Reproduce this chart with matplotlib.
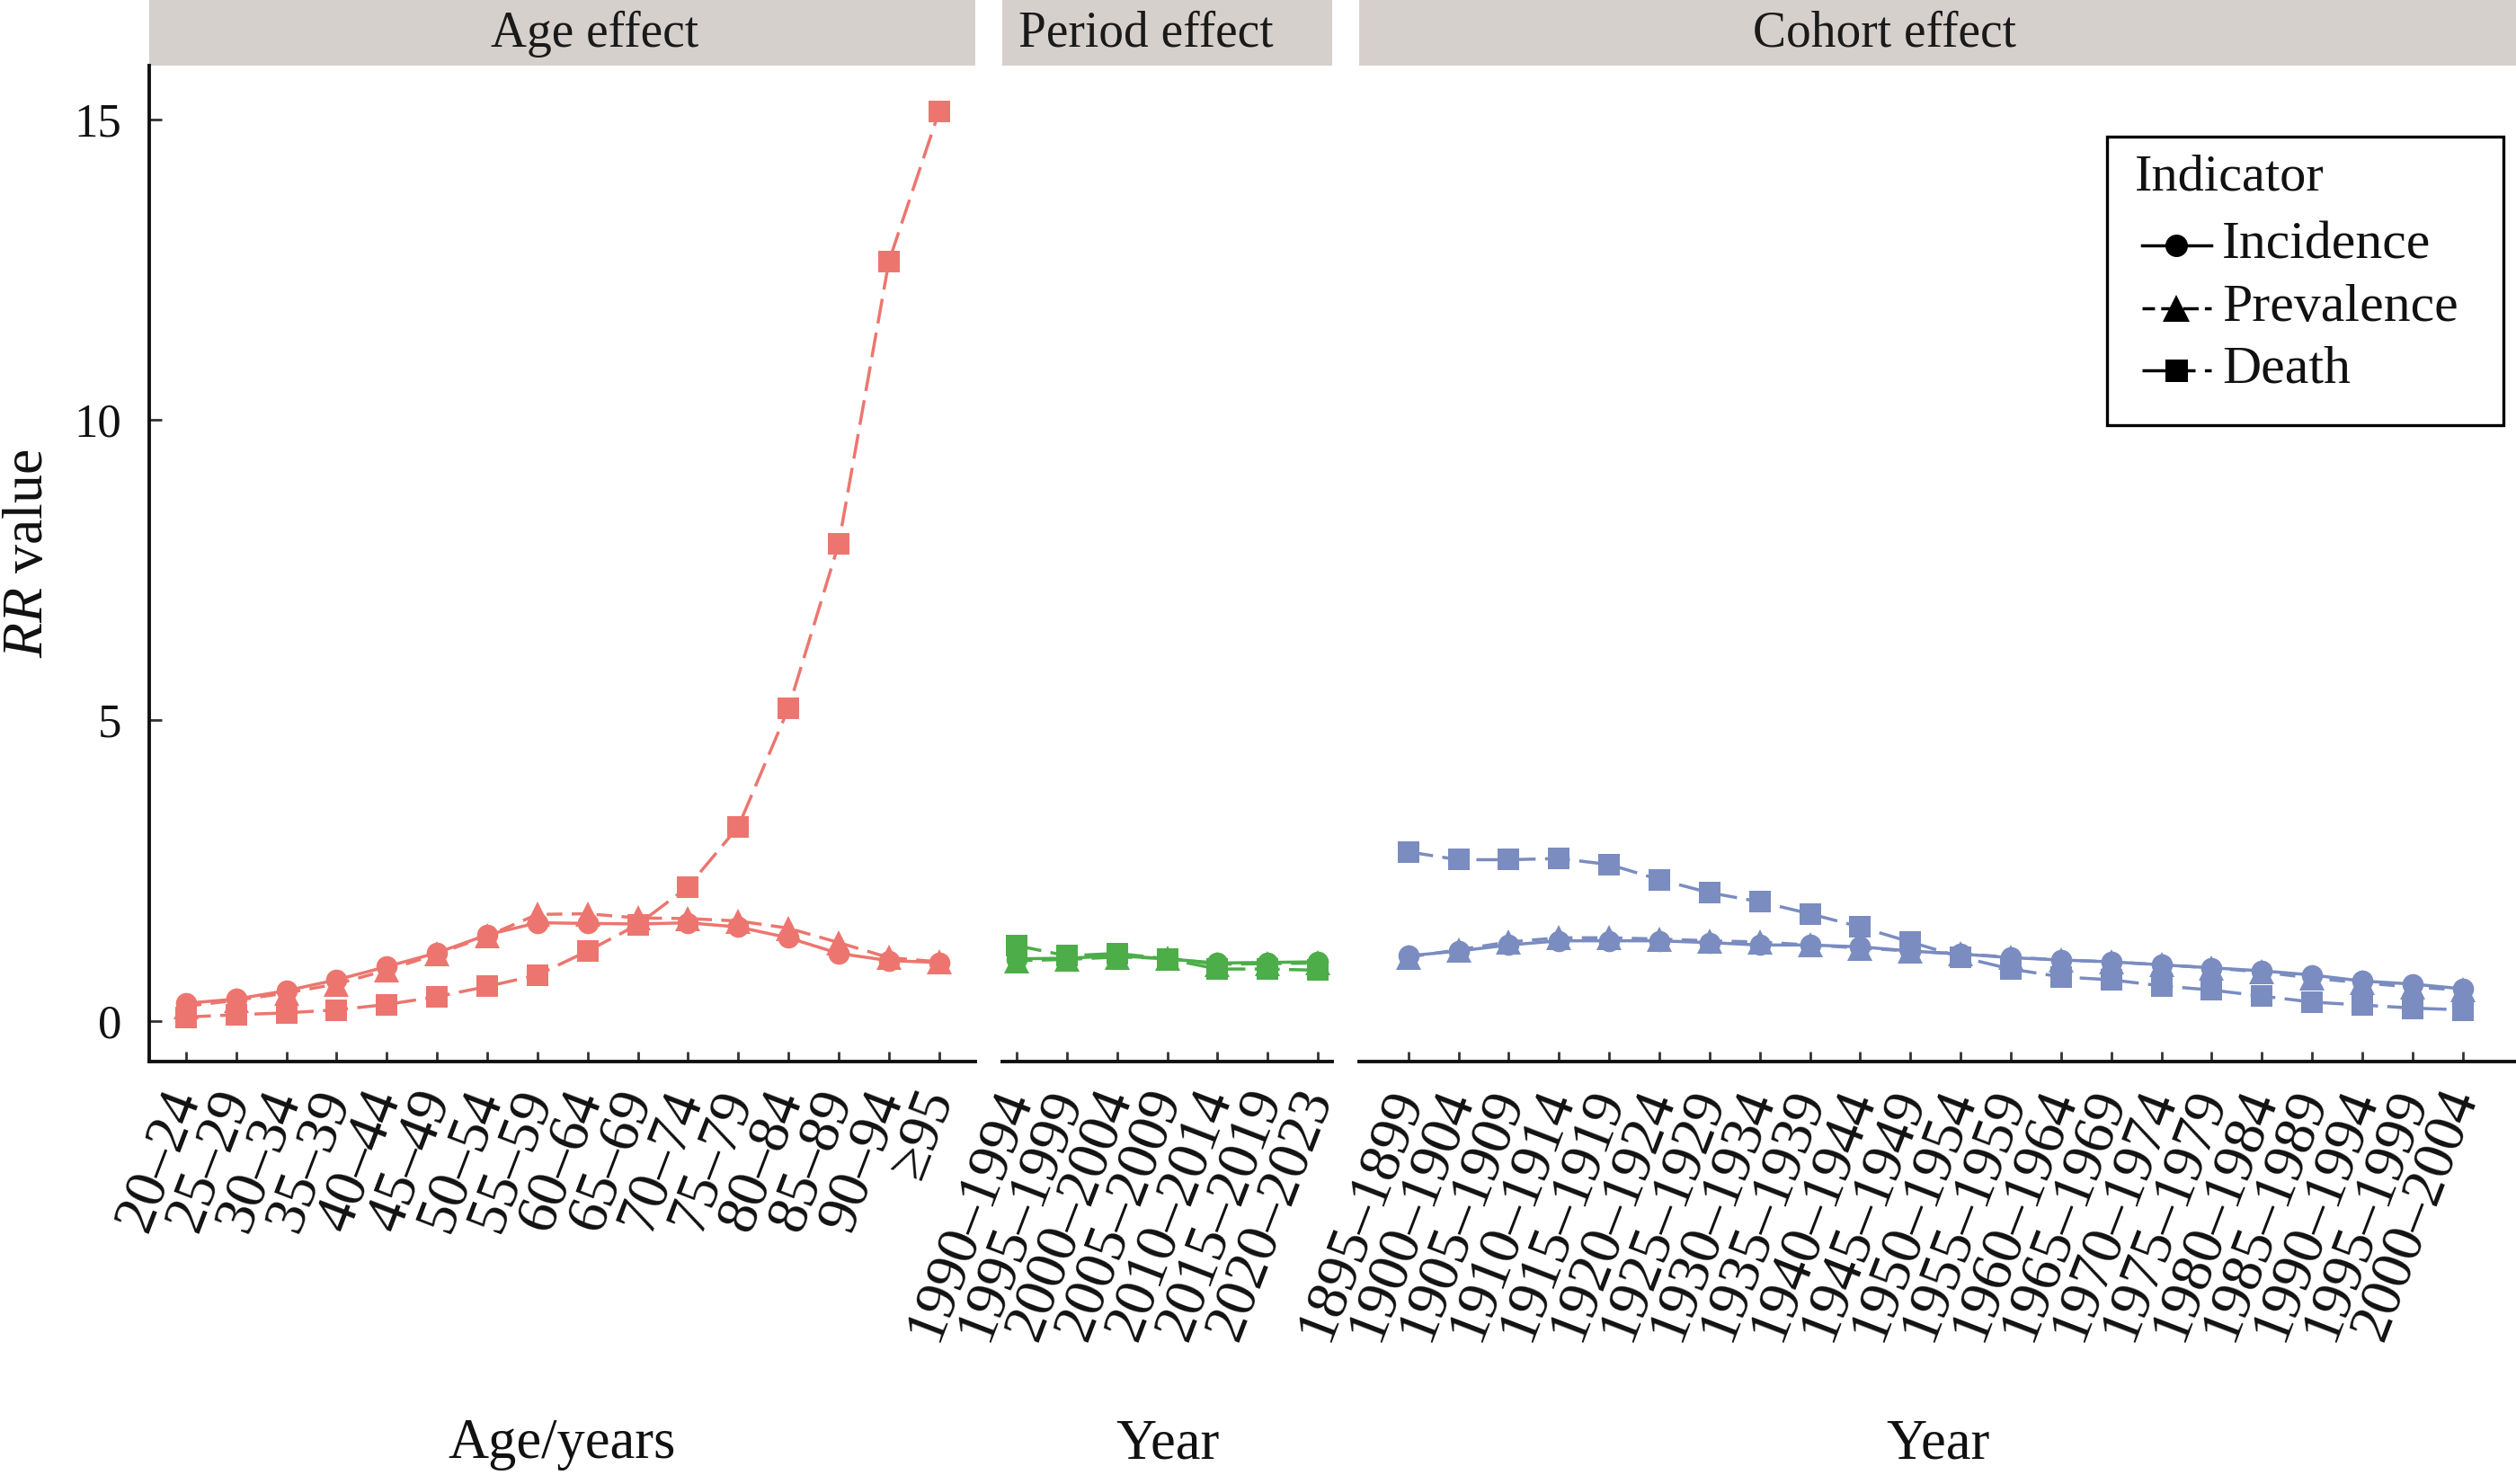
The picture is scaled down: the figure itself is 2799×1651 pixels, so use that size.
import matplotlib
matplotlib.use("Agg")
import matplotlib.pyplot as plt
from matplotlib.patches import Rectangle
from matplotlib.lines import Line2D

plt.rcParams['font.family'] = ['Liberation Serif', 'DejaVu Serif']
plt.rcParams['mathtext.fontset'] = 'custom'
plt.rcParams['mathtext.rm'] = 'Liberation Serif'
plt.rcParams['mathtext.it'] = 'Liberation Serif:italic'

# ---------------- data ----------------
age_labels = ['20–24', '25–29', '30–34', '35–39', '40–44', '45–49', '50–54', '55–59',
              '60–64', '65–69', '70–74', '75–79', '80–84', '85–89', '90–94', '≥95']
age_incidence = [0.29, 0.36, 0.50, 0.68, 0.90, 1.13, 1.43, 1.63, 1.62, 1.61, 1.63, 1.56, 1.38, 1.12, 1.00, 0.97]
age_prevalence = [0.24, 0.34, 0.46, 0.61, 0.84, 1.11, 1.41, 1.77, 1.78, 1.71, 1.70, 1.66, 1.54, 1.30, 1.05, 0.98]
age_death = [0.06, 0.10, 0.13, 0.18, 0.27, 0.40, 0.57, 0.76, 1.16, 1.60, 2.23, 3.23, 5.20, 7.94, 12.64, 15.14]

period_labels = ['1990–1994', '1995–1999', '2000–2004', '2005–2009', '2010–2014', '2015–2019', '2020–2023']
period_incidence = [1.03, 1.04, 1.08, 1.03, 0.96, 0.97, 0.98]
period_prevalence = [1.00, 1.02, 1.06, 1.04, 0.94, 0.95, 0.96]
period_death = [1.25, 1.08, 1.12, 1.03, 0.86, 0.86, 0.84]

cohort_labels = ['1895–1899', '1900–1904', '1905–1909', '1910–1914', '1915–1919', '1920–1924',
                 '1925–1929', '1930–1934', '1935–1939', '1940–1944', '1945–1949', '1950–1954',
                 '1955–1959', '1960–1964', '1965–1969', '1970–1974', '1975–1979', '1980–1984',
                 '1985–1989', '1990–1994', '1995–1999', '2000–2004']
cohort_incidence = [1.08, 1.16, 1.26, 1.33, 1.33, 1.33, 1.30, 1.26, 1.26, 1.23, 1.16, 1.11,
                    1.05, 1.01, 0.98, 0.93, 0.88, 0.83, 0.76, 0.66, 0.61, 0.53]
cohort_prevalence = [1.06, 1.18, 1.31, 1.38, 1.38, 1.36, 1.33, 1.31, 1.26, 1.21, 1.16, 1.11,
                     1.06, 1.01, 0.98, 0.93, 0.88, 0.81, 0.71, 0.63, 0.56, 0.51]
cohort_death = [2.81, 2.68, 2.68, 2.70, 2.60, 2.35, 2.13, 1.98, 1.78, 1.56, 1.31, 1.06,
                0.86, 0.73, 0.68, 0.58, 0.51, 0.41, 0.31, 0.26, 0.21, 0.18]

panel_titles = ['Age effect', 'Period effect', 'Cohort effect']
axis_titles = ['Age/years', 'Year', 'Year']
indicator_names = ['Incidence', 'Prevalence', 'Death']
legend_title = 'Indicator'

# ---------------- styling ----------------
W, H = 2799, 1651
fig = plt.figure(figsize=(W / 100, H / 100), dpi=100)
fig.patch.set_facecolor('white')

colors = ['#EC766F', '#4CAD49', '#7A8CC0']
markers = {'Incidence': 'o', 'Prevalence': '^', 'Death': 's'}
msizes = {'Incidence': 17, 'Prevalence': 20, 'Death': 17}
lstyles = {'Incidence': '-', 'Prevalence': (0, (5, 3)), 'Death': (0, (8, 3))}
zorders = {'Incidence': 3, 'Death': 4, 'Prevalence': 5}
LW = 2.5
TXT = '#111111'

top_px, bot_px = 73, 1181
strip_px = 73
panels_px = [(166, 1085, -0.73, 15.72), (1115, 1482, -0.29, 6.29), (1512, 2799, -0.98, 22.06)]
strip_text_x = [662, 1275, 2096]
ylim = (-0.68, 15.9)

datasets = [
    (age_labels, age_incidence, age_prevalence, age_death),
    (period_labels, period_incidence, period_prevalence, period_death),
    (cohort_labels, cohort_incidence, cohort_prevalence, cohort_death),
]

for i, ((x0, x1, xl0, xl1), (labels, inc, prev, dth)) in enumerate(zip(panels_px, datasets)):
    ax = fig.add_axes([x0 / W, 1 - bot_px / H, (x1 - x0) / W, (bot_px - top_px) / H])
    xs = list(range(len(labels)))
    for name, vals in zip(indicator_names, [inc, prev, dth]):
        ax.plot(xs, vals, color=colors[i], lw=LW, linestyle=lstyles[name],
                marker=markers[name], markersize=msizes[name], markeredgewidth=0,
                zorder=zorders[name], clip_on=False)
    ax.set_xlim(xl0, xl1)
    ax.set_ylim(*ylim)
    ax.set_xticks(xs)
    ax.set_xticklabels(labels, rotation=69, ha='right', va='center',
                       rotation_mode='anchor', fontsize=47, color=TXT)
    ax.tick_params(axis='x', direction='in', length=8, width=2, color='#333333', pad=24)
    for s in ['top', 'right']:
        ax.spines[s].set_visible(False)
    ax.spines['bottom'].set_linewidth(2.8)
    ax.spines['bottom'].set_color(TXT)
    if i == 0:
        ax.spines['left'].set_linewidth(2.8)
        ax.spines['left'].set_color(TXT)
        ax.set_yticks([0, 5, 10, 15])
        ax.set_yticklabels(['0', '5', '10', '15'], fontsize=38, color=TXT)
        ax.tick_params(axis='y', direction='in', length=10, width=2, color='#333333', pad=22)
    else:
        ax.spines['left'].set_visible(False)
        ax.set_yticks([])
    # facet strip
    hfrac = strip_px / (bot_px - top_px)
    ax.add_patch(Rectangle((0, 1), 1, hfrac, transform=ax.transAxes, facecolor='#D6D0CD',
                           edgecolor='none', clip_on=False, zorder=1))
    fig.text(strip_text_x[i] / W, 1 - 38 / H, panel_titles[i], ha='center',
             va='center', fontsize=40, color='#1a1a1a')
    # axis title
    fig.text((x0 + x1) / 2 / W, 1 - 1607 / H, axis_titles[i], ha='center', va='center',
             fontsize=45, color=TXT)

fig.text(32 / W, 1 - 616 / H, r'$\mathit{RR}$ value', rotation=90, ha='center', va='center',
         fontsize=46, color=TXT)

# ---------------- legend (manual, in figure pixels) ----------------
def fx(px):
    return px / W

def fy(py):
    return 1 - py / H

fig.patches.append(Rectangle((fx(2344), fy(473)), (2785 - 2344) / W, (473 - 152) / H,
                             transform=fig.transFigure, facecolor='white', edgecolor='black',
                             linewidth=2.4, zorder=10))
fig.text(fx(2375), fy(198), legend_title, ha='left', va='center', fontsize=42, color=TXT,
         zorder=11)
key_dashes = {'Incidence': '-', 'Prevalence': (1, (5, 2)), 'Death': (0, (11, 3, 3, 3))}
for name, ypx in zip(indicator_names, [273, 343, 412]):
    ln = Line2D([fx(2383), fx(2460)], [fy(ypx), fy(ypx)], transform=fig.transFigure,
                color='black', lw=LW, linestyle=key_dashes[name], zorder=11)
    fig.lines.append(ln)
    mk = Line2D([fx(2421)], [fy(ypx)], transform=fig.transFigure, color='black',
                marker=markers[name], markersize=msizes[name] + 1, markeredgewidth=0,
                linestyle='none', zorder=12)
    fig.lines.append(mk)
    fig.text(fx(2472), fy(ypx), name, ha='left', va='center', fontsize=43, color=TXT,
             zorder=11)

fig.savefig('out.png', dpi=100)
